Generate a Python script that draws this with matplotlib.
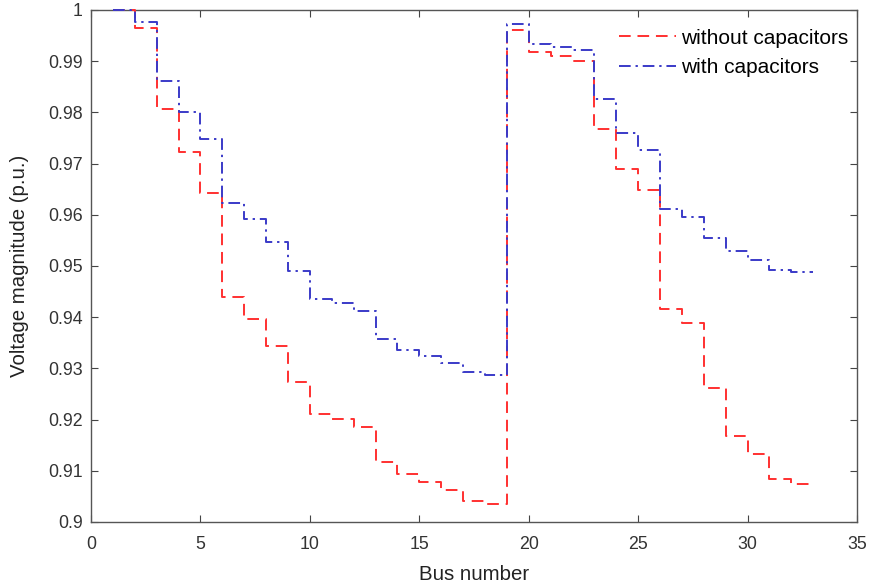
import matplotlib
matplotlib.use("Agg")
import matplotlib.pyplot as plt
from matplotlib.ticker import FuncFormatter

plt.rcParams['font.family'] = ['Liberation Sans', 'DejaVu Sans']

bus = list(range(1, 34))
without_caps = [1.0, 0.9965, 0.9807, 0.9723, 0.9643, 0.9439, 0.9396, 0.9344,
                0.9273, 0.9211, 0.9201, 0.9186, 0.9117, 0.9094, 0.9078, 0.9063,
                0.9041, 0.9035, 0.9961, 0.9918, 0.9910, 0.9900, 0.9768, 0.9689,
                0.9648, 0.9416, 0.9389, 0.9262, 0.9168, 0.9133, 0.9084, 0.9074,
                0.9074]
with_caps = [1.0, 0.9977, 0.9861, 0.9801, 0.9748, 0.9623, 0.9592, 0.9547,
             0.9490, 0.9436, 0.9428, 0.9412, 0.9357, 0.9336, 0.9324, 0.9311,
             0.9293, 0.9287, 0.9973, 0.9934, 0.9928, 0.9922, 0.9826, 0.9760,
             0.9727, 0.9611, 0.9596, 0.9555, 0.9529, 0.9512, 0.9492, 0.9488,
             0.9488]
xticks = [0, 5, 10, 15, 20, 25, 30, 35]
yticks = [0.9, 0.91, 0.92, 0.93, 0.94, 0.95, 0.96, 0.97, 0.98, 0.99, 1.0]

fig = plt.figure(figsize=(8.8, 5.87), dpi=100)
ax = fig.add_axes([91/880, 1 - 522/587, (857 - 91)/880, (522 - 10)/587])

ax.step(bus, without_caps, where='post', color='#ff3030', linestyle=(0, (6, 3.5)),
        linewidth=1.4, label='without capacitors', clip_on=False, zorder=3)
ax.step(bus, with_caps, where='post', color='#3a3ac8', linestyle=(0, (6, 2.5, 1.2, 2.5)),
        linewidth=1.4, label='with capacitors', clip_on=False, zorder=3)

ax.set_xlim(0, 35)
ax.set_ylim(0.9, 1.0)
ax.set_xticks(xticks)
ax.set_yticks(yticks)
ax.yaxis.set_major_formatter(FuncFormatter(lambda v, p: f"{v:g}"))
ax.tick_params(direction='in', top=True, right=True, length=5, width=0.8,
               colors='#444444', labelsize=12.8, labelcolor='#333333')
ax.tick_params(axis='x', pad=10)
ax.tick_params(axis='y', pad=6)
for s in ax.spines.values():
    s.set_color('#555555')
    s.set_linewidth(1.0)

ax.set_xlabel('Bus number', fontsize=14.7, color='#222222', labelpad=8.5)
ax.set_ylabel('Voltage magnitude (p.u.)', fontsize=14.7, color='#222222', labelpad=14)

ax.legend(loc='upper right', frameon=False, fontsize=15, handlelength=2.75,
          handletextpad=0.25, borderaxespad=0.0, borderpad=0.4, labelspacing=0.5,
          bbox_to_anchor=(1.0, 0.98))

fig.savefig('out.png', dpi=100)
